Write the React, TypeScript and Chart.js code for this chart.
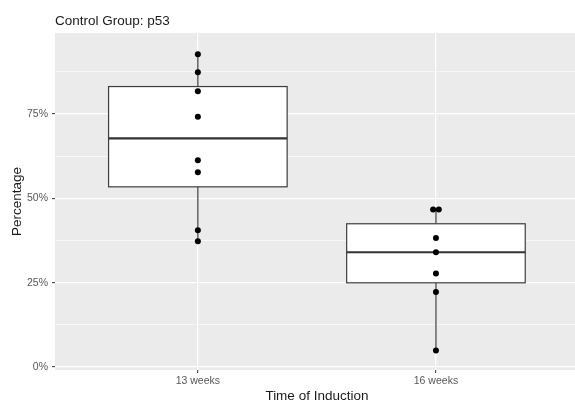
import React, { useEffect, useRef } from 'react';
import { Chart, registerables } from 'chart.js';

Chart.register(...registerables);

const categories = ['13 weeks', '16 weeks'];
const week13Values = [92.7, 87.4, 81.7, 74.2, 61.3, 57.7, 40.5, 37.3];
const week16Values = [46.7, 46.7, 38.2, 34.0, 27.7, 22.2, 4.9];
const week13Jitter = [0, 0, 0, 0, 0, 0, 0, 0];
const week16Jitter = [-0.012, 0.012, 0, 0, 0, 0, 0];
const yMajorTicks = [0, 25, 50, 75];
const yMinorTicks = [12.5, 37.5, 62.5, 87.5];
const chartTitle = 'Control Group: p53';
const xAxisTitle = 'Time of Induction';
const yAxisTitle = 'Percentage';

const FONT = '"Liberation Sans", Arial, Helvetica, sans-serif';

function quantile(sorted: number[], p: number): number {
  const h = (sorted.length - 1) * p;
  const lo = Math.floor(h);
  const hi = Math.min(lo + 1, sorted.length - 1);
  return sorted[lo] + (h - lo) * (sorted[hi] - sorted[lo]);
}

function boxStats(values: number[]) {
  const s = [...values].sort((a, b) => a - b);
  const q1 = quantile(s, 0.25);
  const med = quantile(s, 0.5);
  const q3 = quantile(s, 0.75);
  const iqr = q3 - q1;
  const lo = Math.min(...s.filter((v) => v >= q1 - 1.5 * iqr));
  const hi = Math.max(...s.filter((v) => v <= q3 + 1.5 * iqr));
  return { q1, med, q3, lo, hi };
}

const groups = [week13Values, week16Values];
const jitters = [week13Jitter, week16Jitter];

const boxPlugin = {
  id: 'ggbox',
  beforeDraw(chart: any) {
    const { ctx, chartArea: a } = chart;
    ctx.save();
    ctx.fillStyle = '#EBEBEB';
    ctx.fillRect(a.left, a.top, a.right - a.left, a.bottom - a.top);
    ctx.restore();
  },
  beforeDatasetsDraw(chart: any) {
    const { ctx } = chart;
    const xs = chart.scales.x;
    const ys = chart.scales.y;
    const halfWidth = 0.375;
    ctx.save();
    groups.forEach((vals, i) => {
      const st = boxStats(vals);
      const cx = xs.getPixelForValue(i + 1);
      const xl = xs.getPixelForValue(i + 1 - halfWidth);
      const xr = xs.getPixelForValue(i + 1 + halfWidth);
      const yq1 = ys.getPixelForValue(st.q1);
      const yq3 = ys.getPixelForValue(st.q3);
      const ymed = ys.getPixelForValue(st.med);
      const ylo = ys.getPixelForValue(st.lo);
      const yhi = ys.getPixelForValue(st.hi);
      ctx.strokeStyle = '#3d3d3d';
      ctx.lineWidth = 1.2;
      ctx.beginPath();
      ctx.moveTo(cx, yq3);
      ctx.lineTo(cx, yhi);
      ctx.moveTo(cx, yq1);
      ctx.lineTo(cx, ylo);
      ctx.stroke();
      ctx.fillStyle = '#FFFFFF';
      ctx.fillRect(xl, yq3, xr - xl, yq1 - yq3);
      ctx.strokeRect(xl, yq3, xr - xl, yq1 - yq3);
      ctx.lineWidth = 2.2;
      ctx.strokeStyle = '#333333';
      ctx.beginPath();
      ctx.moveTo(xl, ymed);
      ctx.lineTo(xr, ymed);
      ctx.stroke();
    });
    ctx.restore();
  },
  afterDraw(chart: any) {
    const { ctx, chartArea: a } = chart;
    const xs = chart.scales.x;
    ctx.save();
    ctx.fillStyle = '#1a1a1a';
    ctx.font = `13.5px ${FONT}`;
    ctx.textAlign = 'left';
    ctx.textBaseline = 'alphabetic';
    ctx.fillText(chartTitle, a.left, 24.5);
    ctx.textAlign = 'center';
    ctx.fillText(xAxisTitle, xs.getPixelForValue(1.5), 400);
    ctx.translate(20.5, (a.top + a.bottom) / 2);
    ctx.rotate(-Math.PI / 2);
    ctx.fillText(yAxisTitle, 0, 0);
    ctx.restore();
  },
};

export default function App() {
  const ref = useRef<HTMLCanvasElement | null>(null);

  useEffect(() => {
    if (!ref.current) return;
    const points = groups.map((vals, i) =>
      vals.map((v, j) => ({ x: i + 1 + jitters[i][j], y: v }))
    );
    const chart = new Chart(ref.current, {
      type: 'scatter',
      data: {
        datasets: [
          {
            data: [...points[0], ...points[1]],
            backgroundColor: '#000000',
            borderColor: '#000000',
            pointRadius: 3,
            pointHoverRadius: 3,
            borderWidth: 0,
          },
        ],
      },
      options: {
        responsive: false,
        animation: false,
        devicePixelRatio: 1,
        layout: { autoPadding: false, padding: { top: 33, left: 0, right: 0, bottom: 0 } },
        plugins: {
          legend: { display: false },
          tooltip: { enabled: false },
          title: { display: false },
        },
        scales: {
          x: {
            type: 'linear',
            min: 0.4,
            max: 2.584,
            afterBuildTicks: (s: any) => {
              s.ticks = categories.map((_, i) => ({ value: i + 1 }));
            },
            afterFit: (s: any) => {
              s.height = 38;
            },
            border: { display: false },
            grid: {
              color: '#FFFFFF',
              lineWidth: 1.3,
              tickLength: 3,
              tickColor: '#333333',
              tickWidth: 1,
            },
            ticks: {
              autoSkip: false,
              maxRotation: 0,
              padding: 2,
              color: '#575757',
              font: { family: FONT, size: 10.5 },
              callback: (_v: any, i: number) => categories[i],
            },
          },
          y: {
            type: 'linear',
            min: -0.9,
            max: 99,
            afterBuildTicks: (s: any) => {
              s.ticks = [...yMajorTicks, ...yMinorTicks]
                .sort((a, b) => a - b)
                .map((v) => ({ value: v }));
            },
            afterFit: (s: any) => {
              s.width = 55;
            },
            border: { display: false },
            grid: {
              color: '#FFFFFF',
              lineWidth: (c: any) => (yMajorTicks.includes(c.tick?.value) ? 1.3 : 0.6),
              tickLength: 3,
              tickColor: (c: any) =>
                yMajorTicks.includes(c.tick?.value) ? '#333333' : 'rgba(0,0,0,0)',
              tickWidth: 1,
            },
            ticks: {
              autoSkip: false,
              padding: 4,
              color: '#575757',
              font: { family: FONT, size: 10.5 },
              callback: (v: any) => (yMajorTicks.includes(Number(v)) ? `${v}%` : ''),
            },
          },
        },
      },
      plugins: [boxPlugin],
    });
    return () => chart.destroy();
  }, []);

  return (
    <div style={{ position: 'absolute', left: 0, top: 0, width: 575, height: 408, background: '#fff' }}>
      <canvas ref={ref} width={575} height={408} style={{ display: 'block' }} />
    </div>
  );
}
